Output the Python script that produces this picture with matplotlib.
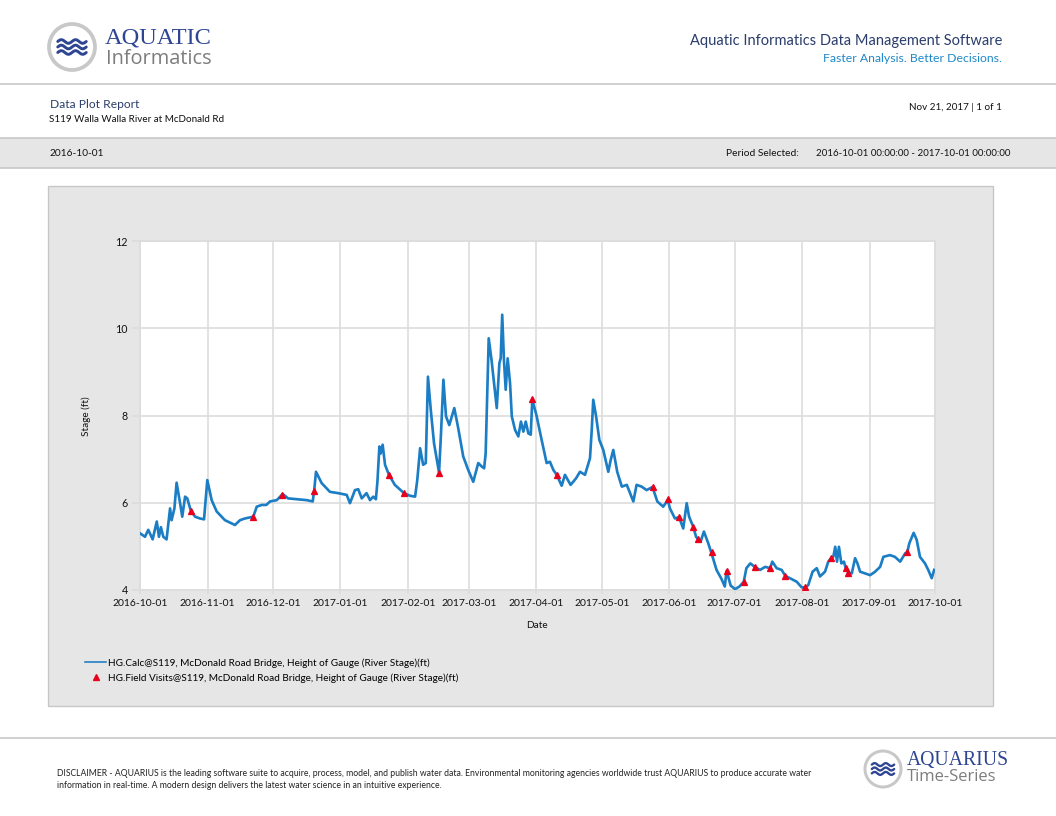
import numpy as np
import matplotlib
matplotlib.use("Agg")
import matplotlib.pyplot as plt
import matplotlib.dates as mdates
from matplotlib.patches import Rectangle, Circle
from datetime import datetime

# ---------------- data ----------------
start_date = "2016-10-01"
end_date = "2017-10-01"

# continuous stage record: day offset from 2016-10-01, stage (ft)
calc_days = [0, 2.3, 3.8, 5.8, 7.7, 8.7, 9.6, 10.7, 12.2, 13.8, 14.5, 15.8, 16.8, 18.4, 19.4,
             20.7, 21.7, 23.3, 25.3, 27.5, 29.4, 30.9, 32.9, 35.2, 39, 43.6, 45.9, 48.2, 52,
             53.6, 55.9, 58, 59.7, 62.8, 65.5, 68, 72, 76.5, 79.3, 80, 80.8, 83.4, 87.2, 91,
             94.9, 96.4, 98.7, 100.2, 101.8, 104, 105.6, 107.1, 108.3, 109, 109.9, 110.5,
             111.4, 112.5, 114.3, 117, 121.2, 124, 126.3, 127.3, 128.6, 130, 131.2, 132.2,
             133.5, 135, 137.3, 138.2, 139.3, 140.5, 142, 144.3, 146.1, 148.4, 150.7, 153,
             155.3, 156.9, 158, 158.7, 160.1, 161.4, 163.8, 165, 165.6, 166.3, 167.1, 167.9,
             168.8, 169.9, 170.7, 172.2, 173.7, 174.9, 176, 177.1, 178.3, 179.4, 180.1, 182,
             184.4, 186.7, 188.2, 189.8, 191.3, 193.6, 195.1, 197.7, 200.2, 202, 204.3, 206.6,
             207.4, 208.1, 209.4, 210.9, 212.7, 215, 216.1, 217.3, 219.1, 221.2, 223.5, 226.5,
             228, 230.3, 232.6, 235.3, 237.5, 240.2, 242.3, 243.3, 245.6, 247.5, 249.4, 251,
             252.1, 254, 255.3, 256.3, 257.4, 258.9, 260.9, 262.4, 264.7, 267, 268.5, 269.3,
             271.2, 273.2, 275.2, 277.2, 278.4, 280.2, 282.5, 284.7, 287, 289.3, 290.3, 292.3,
             294.6, 296.3, 298.4, 301.5, 303.8, 305.3, 306.8, 308.8, 310.7, 312.2, 314.5, 316,
             317.3, 318.3, 319.2, 320, 320.9, 322, 323.2, 324, 325.2, 326.8, 328.3, 329.4,
             330.6, 332.9, 335.2, 337.5, 339.8, 341.3, 344.3, 346.6, 349, 351.3, 352.3, 353.2,
             355.2, 356.6, 358.1, 360.4, 361.9, 363.5, 364.6]
calc_stage = [5.30, 5.22, 5.38, 5.16, 5.57, 5.22, 5.44, 5.22, 5.16, 5.87, 5.60, 5.87, 6.46, 5.99,
              5.68, 6.14, 6.10, 5.82, 5.68, 5.64, 5.62, 6.52, 6.06, 5.80, 5.60, 5.49, 5.60, 5.64,
              5.68, 5.91, 5.95, 5.95, 6.03, 6.06, 6.20, 6.10, 6.08, 6.06, 6.03, 6.29, 6.71, 6.45,
              6.25, 6.22, 6.18, 5.99, 6.29, 6.31, 6.10, 6.22, 6.06, 6.14, 6.08, 6.48, 7.29, 7.13,
              7.33, 6.87, 6.64, 6.41, 6.22, 6.16, 6.14, 6.52, 7.25, 6.87, 6.91, 8.89, 8.13, 7.36,
              6.69, 7.59, 8.82, 7.98, 7.78, 8.17, 7.71, 7.06, 6.75, 6.48, 6.91, 6.83, 6.79, 7.13,
              9.77, 9.27, 8.17, 9.20, 9.31, 10.31, 9.27, 8.59, 9.31, 8.74, 7.98, 7.67, 7.52, 7.86,
              7.63, 7.86, 7.59, 7.56, 8.36, 8.01, 7.44, 6.91, 6.94, 6.75, 6.64, 6.39, 6.64, 6.41,
              6.56, 6.71, 6.64, 7.02, 7.67, 8.36, 7.98, 7.44, 7.21, 6.71, 6.98, 7.21, 6.71, 6.37,
              6.41, 6.03, 6.41, 6.37, 6.29, 6.36, 6.03, 5.91, 6.06, 5.87, 5.64, 5.67, 5.41, 5.99,
              5.68, 5.45, 5.22, 5.16, 5.11, 5.34, 5.07, 4.84, 4.46, 4.25, 4.08, 4.44, 4.10, 4.02,
              4.08, 4.19, 4.50, 4.61, 4.52, 4.46, 4.53, 4.50, 4.65, 4.50, 4.46, 4.32, 4.27, 4.19,
              4.06, 4.06, 4.11, 4.42, 4.50, 4.31, 4.42, 4.65, 4.73, 4.76, 4.99, 4.65, 4.99, 4.61,
              4.65, 4.50, 4.40, 4.38, 4.73, 4.61, 4.42, 4.38, 4.34, 4.42, 4.53, 4.76, 4.80, 4.76,
              4.65, 4.84, 4.87, 5.07, 5.31, 5.15, 4.76, 4.61, 4.46, 4.27, 4.46]

# field visits: day offset from 2016-10-01, stage (ft)
visit_days = [23.3, 52, 65.3, 80, 114.3, 121.2, 137.3, 180.1, 191.3, 235.3, 242.3, 247.5, 254,
              256.3, 262.4, 269.3, 277.2, 282.5, 289.3, 296.3, 305.3, 317.3, 324, 325.2, 352.3]
visit_stage = [5.82, 5.68, 6.18, 6.28, 6.64, 6.22, 6.68, 8.38, 6.64, 6.36, 6.08, 5.67, 5.45,
               5.16, 4.86, 4.44, 4.19, 4.52, 4.50, 4.32, 4.06, 4.73, 4.50, 4.40, 4.87]

y_ticks = [4, 6, 8, 10, 12]
calc_label = "HG.Calc@S119, McDonald Road Bridge, Height of Gauge (River Stage)(ft)"
visit_label = "HG.Field Visits@S119, McDonald Road Bridge, Height of Gauge (River Stage)(ft)"

# ---------------- figure ----------------
W, H = 1056, 816
fig = plt.figure(figsize=(W / 96, H / 96), dpi=96)
fig.patch.set_facecolor("white")

bg = fig.add_axes([0, 0, 1, 1])
bg.set_xlim(0, W)
bg.set_ylim(H, 0)
bg.axis("off")
bg.set_zorder(-5)

NAVY = "#2b3d6b"
LOGO_NAVY = "#2e4593"
GREY_LINE = "#c6c6c6"
PANEL = "#e6e6e6"
SANS = ["Lato", "DejaVu Sans"]

# header dividers
bg.plot([0, W], [84, 84], color=GREY_LINE, lw=1.2)
bg.plot([0, W], [738, 738], color=GREY_LINE, lw=1.2)
# grey band
bg.add_patch(Rectangle((-2, 138), W + 4, 30, facecolor=PANEL, edgecolor=GREY_LINE, lw=1.2))
# chart panel
bg.add_patch(Rectangle((48, 186), 945, 520, facecolor=PANEL, edgecolor=GREY_LINE, lw=1.0))


def logo(cx, cy, r, scale):
    bg.add_patch(Circle((cx, cy), r, facecolor="white", edgecolor="#c8c8c8", lw=2.8 * scale))
    t = np.linspace(0, 1, 60)
    for dy in (-5.5, 0, 5.5):
        xs = cx - 0.62 * r + t * 1.24 * r
        ys = cy + dy * scale - 1.8 * scale * np.sin(t * 4 * np.pi)
        bg.plot(xs, ys, color=LOGO_NAVY, lw=2.2 * scale, solid_capstyle="round")


logo(72, 47, 23, 1.0)
bg.text(105, 38, "AQUATIC", fontsize=18.3, color=LOGO_NAVY, family="Liberation Serif",
        ha="left", va="center")
bg.text(106, 59, "Informatics", fontsize=15, color="#7d7d7d", family="Open Sans",
        ha="left", va="center")

bg.text(1002, 41, "Aquatic Informatics Data Management Software", fontsize=11, color=NAVY,
        family=SANS, ha="right", va="center")
bg.text(1002, 59, "Faster Analysis. Better Decisions.", fontsize=9.2, color="#1e88c8",
        family=SANS, ha="right", va="center")

bg.text(50, 104, "Data Plot Report", fontsize=9.0, color=NAVY, family=SANS, ha="left", va="center")
bg.text(49, 119, "S119 Walla Walla River at McDonald Rd", fontsize=7.4, color="#111111",
        family=SANS, ha="left", va="center")
bg.text(1002, 107, "Nov 21, 2017 | 1 of 1", fontsize=7.4, color="#111111", family=SANS,
        ha="right", va="center")

bg.text(50, 153, start_date, fontsize=7.6, color="#111111", family=SANS, ha="left", va="center")
bg.text(726, 153, "Period Selected:", fontsize=7.7, color="#111111", family=SANS, ha="left",
        va="center")
bg.text(1010, 153, f"{start_date} 00:00:00 - {end_date} 00:00:00", fontsize=7.3, color="#111111",
        family=SANS, ha="right", va="center")

# footer
disc1 = ("DISCLAIMER - AQUARIUS is the leading software suite to acquire, process, model, and publish "
         "water data. Environmental monitoring agencies worldwide trust AQUARIUS to produce accurate water")
disc2 = "information in real-time. A modern design delivers the latest water science in an intuitive experience."
bg.text(57, 773, disc1, fontsize=6.5, color="#222222", family=SANS, ha="left", va="center")
bg.text(57, 785, disc2, fontsize=6.5, color="#222222", family=SANS, ha="left", va="center")

logo(883, 769, 18, 0.8)
bg.text(907, 760, "AQUARIUS", fontsize=14.8, color=LOGO_NAVY, family="Liberation Serif",
        ha="left", va="center")
bg.text(907, 777, "Time-Series", fontsize=12.5, color="#7d7d7d", family="Open Sans",
        ha="left", va="center")

# ---------------- chart ----------------
x0, x1, yt, yb = 140, 935, 241, 590
ax = fig.add_axes([x0 / W, 1 - yb / H, (x1 - x0) / W, (yb - yt) / H])
ax.set_facecolor("white")

base = mdates.date2num(datetime.strptime(start_date, "%Y-%m-%d"))
cx = base + np.array(calc_days)
vx = base + np.array(visit_days)

line, = ax.plot(cx, calc_stage, color="#1b7dc4", lw=2.0, zorder=3, label=calc_label)
mk, = ax.plot(vx, visit_stage, linestyle="none", marker="^", markersize=4.8, color="#e8001c",
              zorder=4, label=visit_label)

ax.set_xlim(base, mdates.date2num(datetime.strptime(end_date, "%Y-%m-%d")))
ax.set_ylim(4, 12)
ax.set_yticks(y_ticks)
ax.xaxis.set_major_locator(mdates.MonthLocator())
ax.xaxis.set_major_formatter(mdates.DateFormatter("%Y-%m-%d"))
ax.grid(True, color="#dcdcdc", lw=1.2, zorder=0)
for s in ax.spines.values():
    s.set_color("#dcdcdc")
    s.set_linewidth(1.2)
ax.tick_params(axis="y", length=6, width=1.2, color="#dcdcdc", pad=3, labelsize=8,
               labelcolor="#111111")
ax.tick_params(axis="x", length=3, width=1.2, color="#dcdcdc", pad=4, labelsize=7.8,
               labelcolor="#111111")
for lab in ax.get_xticklabels() + ax.get_yticklabels():
    lab.set_family(SANS)

fig.text(86 / W, 1 - 416 / H, "Stage (ft)", rotation=90, fontsize=7.5, family=SANS,
         ha="center", va="center", color="#111111")
fig.text(537 / W, 1 - 625 / H, "Date", fontsize=7.5, family=SANS, ha="center", va="center",
         color="#111111")

leg = fig.legend(handles=[line, mk], loc="upper left", bbox_to_anchor=(85 / W, 1 - 658 / H),
                 frameon=False, prop={"family": SANS, "size": 7.5}, handlelength=2.1,
                 handletextpad=0.2, labelspacing=0.55, borderaxespad=0, borderpad=0)
leg.get_lines()[0].set_linewidth(1.2)

fig.savefig("out.png", dpi=96)
